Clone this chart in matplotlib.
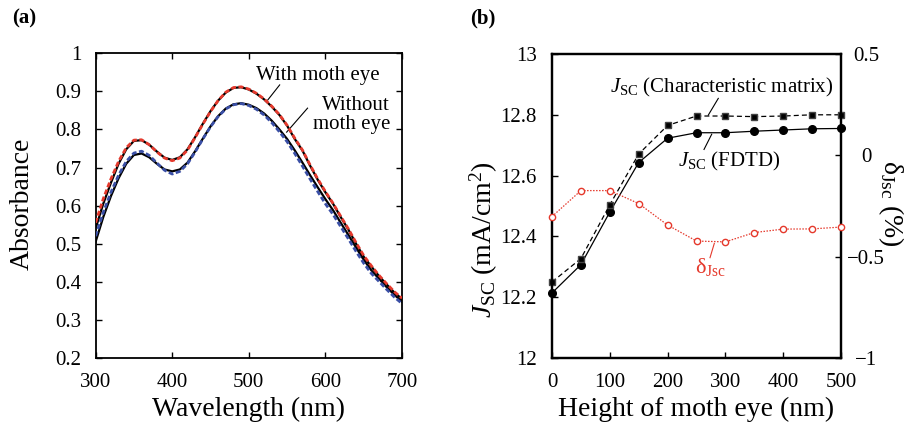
import matplotlib
matplotlib.use("Agg")
import matplotlib.pyplot as plt
import numpy as np

# ---------------- data ----------------
wavelength = [300, 310, 320, 330, 340, 350, 360, 370, 380, 390, 400, 410, 420, 430, 440,
              450, 460, 470, 480, 490, 500, 510, 520, 530, 540, 550, 560, 570, 580, 590,
              600, 610, 620, 630, 640, 650, 660, 670, 680, 690, 700]
abs_with_fdtd = [0.540, 0.605, 0.660, 0.710, 0.748, 0.770, 0.772, 0.760, 0.742, 0.726, 0.720,
                 0.727, 0.748, 0.780, 0.815, 0.848, 0.876, 0.897, 0.909, 0.911, 0.905, 0.894,
                 0.879, 0.860, 0.838, 0.810, 0.775, 0.745, 0.705, 0.668, 0.635, 0.605, 0.570,
                 0.537, 0.500, 0.466, 0.440, 0.415, 0.393, 0.372, 0.355]
abs_with_cm = [0.555, 0.618, 0.670, 0.716, 0.752, 0.772, 0.773, 0.760, 0.741, 0.725, 0.718,
               0.725, 0.746, 0.779, 0.814, 0.847, 0.876, 0.898, 0.910, 0.912, 0.906, 0.895,
               0.880, 0.861, 0.839, 0.811, 0.777, 0.746, 0.707, 0.670, 0.637, 0.606, 0.572,
               0.539, 0.503, 0.469, 0.442, 0.417, 0.395, 0.374, 0.357]
abs_without_fdtd = [0.505, 0.570, 0.625, 0.672, 0.710, 0.733, 0.737, 0.727, 0.710, 0.695, 0.690,
                    0.695, 0.713, 0.743, 0.776, 0.808, 0.835, 0.855, 0.866, 0.869, 0.865, 0.856,
                    0.842, 0.823, 0.800, 0.775, 0.745, 0.713, 0.680, 0.648, 0.617, 0.588, 0.555,
                    0.523, 0.490, 0.458, 0.430, 0.408, 0.386, 0.366, 0.348]
abs_without_cm = [0.520, 0.582, 0.635, 0.680, 0.716, 0.738, 0.743, 0.732, 0.712, 0.693, 0.683,
                  0.690, 0.710, 0.741, 0.775, 0.807, 0.834, 0.854, 0.865, 0.868, 0.863, 0.853,
                  0.838, 0.818, 0.794, 0.768, 0.737, 0.704, 0.670, 0.637, 0.605, 0.577, 0.545,
                  0.513, 0.480, 0.449, 0.422, 0.401, 0.380, 0.360, 0.343]

height = [0, 50, 100, 150, 200, 250, 300, 350, 400, 450, 500]
jsc_fdtd = [12.214, 12.307, 12.480, 12.643, 12.723, 12.741, 12.741, 12.746, 12.750, 12.754, 12.755]
jsc_cm = [12.250, 12.327, 12.504, 12.671, 12.765, 12.796, 12.796, 12.794, 12.796, 12.800, 12.800]
delta_jsc = [-0.302, -0.174, -0.174, -0.238, -0.344, -0.423, -0.427, -0.381, -0.364, -0.363, -0.354]

xticks_a = [300, 400, 500, 600, 700]
yticks_a = [0.2, 0.3, 0.4, 0.5, 0.6, 0.7, 0.8, 0.9, 1.0]
xticks_b = [0, 100, 200, 300, 400, 500]
yticks_b = [12, 12.2, 12.4, 12.6, 12.8, 13]
yticks_b2 = [-1, -0.5, 0, 0.5]
yticklabels_b2 = ["\u22121", "\u22120.5", "0", "0.5"]

# ---------------- style ----------------
plt.rcParams['font.family'] = ['Liberation Serif', 'DejaVu Serif']
plt.rcParams['mathtext.fontset'] = 'custom'
plt.rcParams['mathtext.rm'] = 'Liberation Serif'
plt.rcParams['mathtext.it'] = 'Liberation Serif:italic'
plt.rcParams['mathtext.bf'] = 'Liberation Serif:bold'

RED = '#e5392c'
BLUE = '#3a4fa6'
TICK_FS = 15
LABEL_FS = 20
ANN_FS = 15

fig = plt.figure(figsize=(9.09, 4.25), dpi=100)
W, H = 909, 425

def axes_px(l, t, r, b):
    return fig.add_axes([l / W, 1 - b / H, (r - l) / W, (b - t) / H])

# ---------------- panel (a) ----------------
ax = axes_px(95.6, 53.3, 402, 358)
ax.plot(wavelength, abs_with_fdtd, color='black', lw=1.6, zorder=2)
ax.plot(wavelength, abs_without_fdtd, color='black', lw=1.6, zorder=2)
ax.plot(wavelength, abs_with_cm, color=RED, lw=2.0, dashes=(1.8, 0.9), zorder=3)
ax.plot(wavelength, abs_without_cm, color=BLUE, lw=2.0, dashes=(1.8, 0.9), zorder=3)
ax.set_xlim(300, 700)
ax.set_ylim(0.2, 1.0)
ax.set_xticks(xticks_a)
ax.set_yticks(yticks_a)
ax.set_xticklabels([f"{v:g}" for v in xticks_a])
ax.set_yticklabels([f"{v:g}" for v in yticks_a])
ax.tick_params(direction='in', length=4, width=1.0, top=True, right=True,
               labelsize=TICK_FS)
ax.tick_params(axis='y', pad=10)
ax.tick_params(axis='x', pad=11)
for s in ax.spines.values():
    s.set_linewidth(1.3)
ax.set_xlabel("Wavelength (nm)", fontsize=LABEL_FS, labelpad=3)
fig.text(22 / W, 1 - 204 / H, "Absorbance", fontsize=LABEL_FS, rotation=90,
         ha='center', va='center')

ax.text(590, 0.943, "With moth eye", fontsize=ANN_FS, ha='center', va='center')
ax.plot([540.3, 524.6], [0.917, 0.877], color='black', lw=0.8)
ax.text(634, 0.838, "Without\nmoth eye", fontsize=ANN_FS, ha='center', va='center',
        multialignment='right', linespacing=0.95)
ax.plot([576.7, 549.4], [0.856, 0.793], color='black', lw=0.8)

fig.text(12 / W, 1 - 18 / H, "(a)", fontsize=15, fontweight='bold', ha='left', va='center')

# ---------------- panel (b) ----------------
bx = axes_px(552, 54, 841, 358)
bx.plot(height, jsc_fdtd, color='black', lw=0.9, marker='o', ms=5.5, mfc='black',
        mec='black', clip_on=False, zorder=3)
bx.plot(height, jsc_cm, color='black', lw=0.9, ls=(0, (4, 2.5)), marker='s', ms=4.5,
        mfc='black', mec='#444444', clip_on=False, zorder=3)
bx.set_xlim(0, 500)
bx.set_ylim(12, 13)
bx.set_xticks(xticks_b)
bx.set_yticks(yticks_b)
bx.set_xticklabels([f"{v:g}" for v in xticks_b])
bx.set_yticklabels([f"{v:g}" for v in yticks_b])
bx.tick_params(direction='in', length=4, width=1.0, top=False, right=False,
               labelsize=TICK_FS)
bx.tick_params(axis='y', pad=11)
bx.tick_params(axis='x', pad=11)
for s in bx.spines.values():
    s.set_linewidth(1.6)
bx.set_xlabel("Height of moth eye (nm)", fontsize=LABEL_FS, labelpad=3)
fig.text(484 / W, 1 - 240 / H, r"$J_{\rm SC}$ (mA/cm$^{2}$)", fontsize=LABEL_FS,
         rotation=90, ha='center', va='center')

bx2 = bx.twinx()
bx2.plot(height, delta_jsc, color=RED, lw=0.9, ls=(0, (1.2, 1.2)), marker='o', ms=4.5,
         mfc='white', mec=RED, mew=1.0, clip_on=False, zorder=3)
bx2.set_ylim(-1, 0.5)
bx2.set_yticks(yticks_b2)
bx2.set_yticklabels(yticklabels_b2)
bx2.tick_params(direction='in', length=4, width=1.0, labelsize=TICK_FS, pad=18)
for lab in bx2.get_yticklabels():
    lab.set_ha('center')
for s in bx2.spines.values():
    s.set_linewidth(1.6)
fig.text(891 / W, 1 - 203 / H, r"δ$_{\rm Jsc}$ (%)", fontsize=LABEL_FS, rotation=270,
         ha='center', va='center')

bx.text(100, 12.872, r"$J_{\rm SC}$ (Characteristic matrix)", fontsize=ANN_FS,
        ha='left', va='baseline')
bx.plot([287.7, 270.4], [12.854, 12.799], color='black', lw=0.8)
bx.text(218, 12.629, r"$J_{\rm SC}$ (FDTD)", fontsize=ANN_FS, ha='left', va='baseline')
bx.plot([276.3, 263.0], [12.736, 12.686], color='black', lw=0.8)

def j2d(j):
    return -1 + (j - 12) * 1.5

bx2.text(247.4, j2d(12.279), r"δ$_{\rm Jsc}$", fontsize=ANN_FS + 1, color=RED,
         ha='left', va='baseline')
bx2.plot([280.8, 273.4], [j2d(12.377), j2d(12.33)], color=RED, lw=0.8)

fig.text(470 / W, 1 - 18 / H, "(b)", fontsize=15, fontweight='bold', ha='left', va='center')

fig.savefig("out.png", dpi=100)
